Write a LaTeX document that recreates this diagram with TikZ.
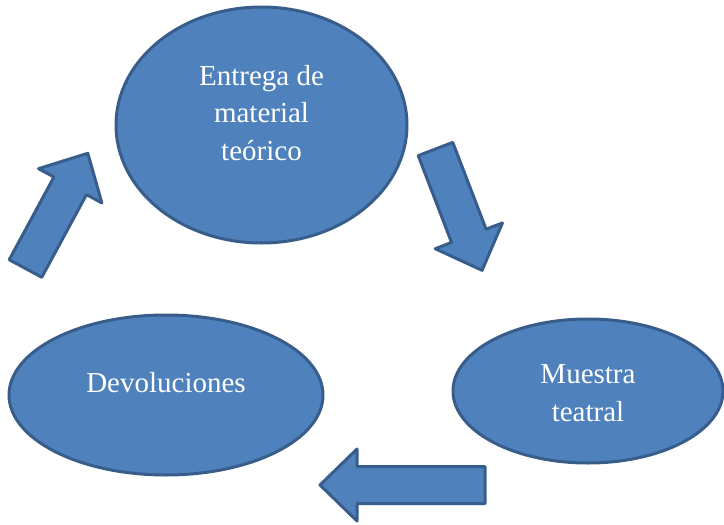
\documentclass[tikz,border=0pt]{standalone}
\usepackage{fontspec}
\setmainfont{Liberation Serif}
\usepackage{tikz}
\usetikzlibrary{shapes.geometric}
\definecolor{boxblue}{HTML}{4F81BD}
\definecolor{rimblue}{HTML}{385D8A}

\begin{document}
\begin{tikzpicture}[x=1pt,y=-1pt,
    bubble/.style={ellipse,draw=rimblue,fill=boxblue,line width=3pt,inner sep=0pt},
    bubbletext/.style={text=white,align=center,inner sep=0pt,font=\fontsize{29}{37.5}\selectfont},
    blockarrow/.pic={
        \draw[draw=rimblue,fill=boxblue,line width=3pt,line join=round]
            (0,-18.5) -- (#1-37,-18.5) -- (#1-37,-36) -- (#1,0) -- (#1-37,36) -- (#1-37,18.5) -- (0,18.5) -- cycle;
    }]
    \useasboundingbox (0,0) rectangle (724,525);

    % ellipses
    \node[bubble,minimum width=291pt,minimum height=236pt] (entrega) at (261.5,125) {};
    \node[bubble,minimum width=314pt,minimum height=160pt] (devol) at (166,395) {};
    \node[bubble,minimum width=270pt,minimum height=144pt] (muestra) at (588,391) {};

    \node[bubbletext] (entregatxt) at ([yshift=12pt]entrega.center) {Entrega de\\material\\teórico};
    \node[bubbletext] (devoltxt) at ([yshift=12pt]devol.center) {Devoluciones};
    \node[bubbletext] (muestratxt) at ([yshift=-2pt]muestra.center) {Muestra\\teatral};

    % arrows
    \pic[rotate=61.6] at (25.5,268.5) {blockarrow=131};
    \pic[rotate=-69] at (435.5,149) {blockarrow=130};
    \pic[rotate=180] at (485,485) {blockarrow=165};

\end{tikzpicture}
\end{document}
